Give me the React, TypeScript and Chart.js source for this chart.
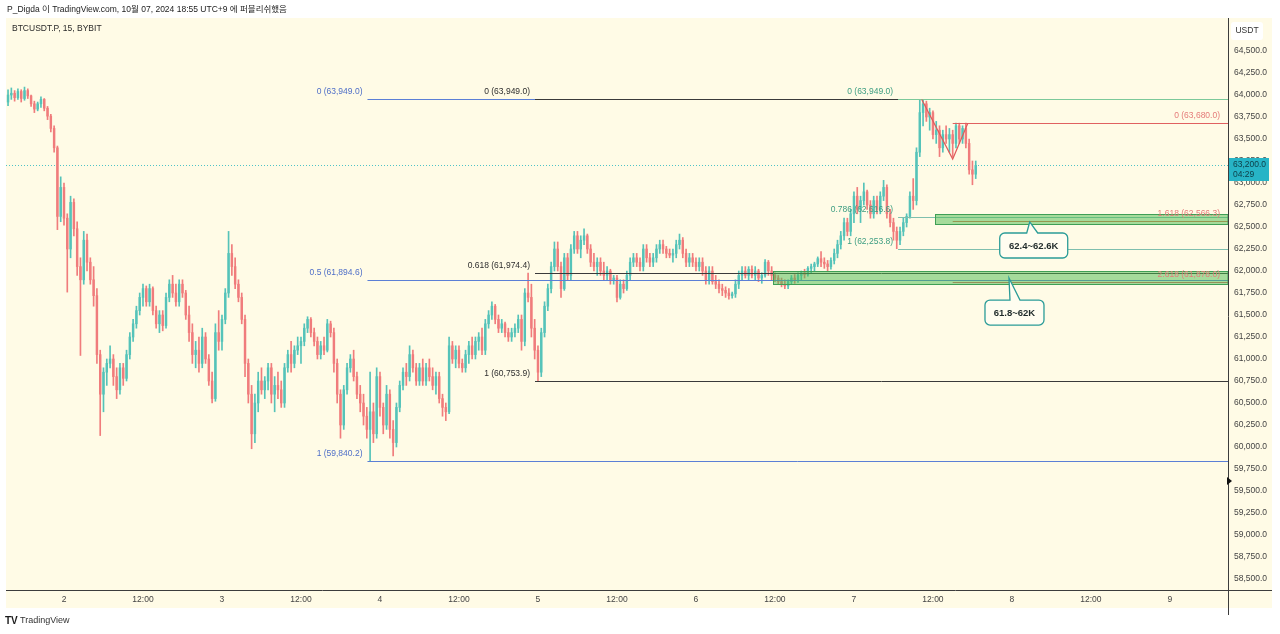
import React, { useEffect, useRef } from "react";
import { Chart, registerables } from "chart.js";

Chart.register(...registerables);

const FONT = '"Liberation Sans", Arial, sans-serif';
const HEADER_FONT = '"Liberation Sans", "Noto Sans CJK KR", sans-serif';
const BG = "#fffbe6";
const UP = "#55c3b9";
const DOWN = "#f07c7c";

const HEADER_TEXT = "P_Digda 이 TradingView.com, 10월 07, 2024 18:55 UTC+9 에 퍼블리쉬했음";
const SYMBOL_TEXT = "BTCUSDT.P, 15, BYBIT";
const FOOTER_TEXT = "TradingView";
const CURRENCY_TEXT = "USDT";

// time axis in hours since Oct 1 00:00
const START_HOUR = 15.5;
const STEP_HOURS = 0.5;
const X_MIN = 15.19;
const X_MAX = 200.82;
const Y_MIN = 58375;
const Y_MAX = 64875;

const opens = [
  63920,64000,64020,63970,64040,63960,64050,63990,63900,63840,
  63900,63950,63850,63760,63620,63400,62620,62950,62600,62250,
  62780,62480,62050,61900,62350,62100,61900,61720,61050,60600,
  60850,60950,61000,60800,60650,60900,60780,61050,61250,61400,
  61550,61700,61800,61650,61800,61550,61400,61500,61380,61700,
  61850,61750,61650,61850,61750,61500,61300,61050,61100,60950,
  61250,61000,60750,60550,61300,61200,61450,61750,62200,62050,
  61850,61700,61450,60950,60600,60150,60500,60750,60650,60750,
  60900,60600,60700,60650,60500,60900,61050,60950,61100,61150,
  61200,61350,61450,61300,61200,61050,61150,61100,61400,61300,
  60950,60600,60250,60650,60900,61000,60800,60600,60500,60350,
  60200,60400,60150,60800,60450,60250,60600,60200,60050,60450,
  60700,60850,60800,61050,60900,60750,60900,60750,60900,60800,
  60700,60800,60550,60450,60400,61150,61000,61100,60950,60900,
  61050,61150,61050,61200,61250,61100,61400,61500,61600,61450,
  61350,61400,61300,61250,61300,61350,61450,61200,61750,61700,
  61350,61100,60850,61300,61600,61800,62050,62250,62050,61800,
  62150,61950,62250,62400,62250,62350,62400,62250,62100,62050,
  62100,62000,61950,62000,61900,61920,61700,61850,61800,61950,
  62100,62150,62100,62050,62250,62150,62100,62150,62250,62300,
  62250,62200,62180,62200,62300,62350,62200,62100,62150,62100,
  62050,62100,62000,61900,62000,61880,61850,61800,61780,61750,
  61720,61740,61850,61950,62000,61950,62020,61950,62000,61920,
  61950,62100,62000,61950,61920,61880,61850,61830,61880,61920,
  61900,61950,61980,61960,62030,62050,62080,62140,62100,62080,
  62050,62120,62200,62300,62400,62550,62450,62650,62850,62700,
  62800,62900,62750,62650,62800,62700,62850,62950,62650,62550,
  62450,62350,62450,62550,62620,62850,62800,63350,63800,63900,
  63750,63800,63550,63600,63400,63550,63500,63550,63450,63650,
  63500,63620,63450,63150,63100,
];
const highs = [
  64060,64080,64050,64070,64060,64090,64070,64000,63930,63920,
  63980,63960,63870,63780,63650,63420,63070,63000,62650,62850,
  62820,62560,62150,62450,62420,62150,62050,61800,61100,60900,
  61000,61150,61050,60900,60950,60950,61100,61300,61450,61600,
  61750,61850,61830,61850,61820,61600,61550,61550,61750,61900,
  61950,61850,61900,61900,61780,61600,61400,61200,61250,61350,
  61300,61050,60850,61400,61550,61500,61800,62450,62300,62150,
  61900,61750,61500,61000,60700,60600,60850,60900,60800,60950,
  60950,60800,60850,60750,60950,61100,61200,61150,61250,61250,
  61400,61480,61470,61350,61250,61200,61250,61450,61430,61350,
  61000,60650,60700,60950,61050,61100,60850,60700,60600,60450,
  60850,60500,60900,60850,60500,60700,60650,60300,60500,60750,
  60900,60950,61150,61100,60950,60950,61000,60950,61000,60900,
  60850,60850,60600,60500,61250,61200,61150,61150,61000,61100,
  61200,61250,61250,61300,61350,61450,61550,61650,61620,61500,
  61450,61420,61350,61350,61400,61500,61500,61800,61975,61850,
  61450,61150,61350,61650,61850,62100,62330,62330,62100,62200,
  62200,62300,62450,62450,62400,62480,62420,62300,62200,62150,
  62150,62100,62050,62020,61950,61950,61900,61900,62000,62150,
  62200,62200,62150,62300,62300,62200,62200,62300,62350,62350,
  62280,62250,62250,62350,62420,62380,62250,62200,62200,62150,
  62150,62150,62050,62050,62050,61950,61900,61850,61820,61800,
  61760,61900,62000,62050,62050,62050,62060,62050,62020,61980,
  62130,62120,62050,61980,61950,61920,61900,61900,61950,61960,
  61980,62000,62020,62050,62080,62100,62160,62220,62150,62120,
  62150,62250,62350,62450,62600,62600,62700,62900,62950,62850,
  63000,62920,62800,62850,62850,62900,63030,62980,62700,62600,
  62500,62500,62600,62650,62900,63050,63400,63949,63940,63930,
  63850,63820,63700,63650,63600,63650,63620,63600,63680,63680,
  63650,63680,63500,63250,63250,
];
const lows = [
  63880,63950,63930,63950,63920,63940,63960,63870,63800,63820,
  63860,63820,63720,63580,63350,62470,62560,62520,61760,62150,
  62400,61950,61040,61850,62000,61850,61600,60950,60130,60400,
  60700,60900,60700,60550,60600,60700,60750,61000,61200,61350,
  61500,61600,61600,61600,61500,61350,61300,61320,61350,61650,
  61700,61600,61600,61700,61450,61200,60950,60900,60850,60900,
  60950,60700,60500,60520,61100,61100,61400,61700,61950,61800,
  61650,61400,60800,60500,59980,60050,60400,60600,60550,60650,
  60500,60400,60550,60450,60450,60850,60850,60900,61050,60950,
  61150,61300,61250,61150,61000,61000,61050,61080,61250,60850,
  60500,60100,60200,60600,60850,60750,60550,60400,60250,60100,
  59840,60050,60100,60350,60150,60200,60100,59900,60000,60400,
  60650,60700,60750,60850,60700,60700,60700,60700,60750,60650,
  60600,60500,60350,60300,60380,60950,60900,60900,60850,60850,
  60950,61000,61000,61100,61050,61050,61350,61450,61400,61300,
  61300,61250,61200,61200,61250,61300,61100,61150,61650,61250,
  61000,60754,60800,61250,61550,61750,62000,62000,61700,61780,
  61900,61900,62200,62200,62150,62300,62200,62050,62000,61950,
  61950,61900,61900,61850,61850,61650,61680,61750,61780,61900,
  62050,62050,62000,62000,62100,62050,62050,62100,62200,62200,
  62150,62150,62100,62150,62250,62150,62050,62050,62050,62000,
  62000,61950,61850,61850,61850,61800,61750,61720,61700,61680,
  61690,61700,61800,61900,61920,61900,61920,61900,61880,61860,
  61930,61950,61900,61880,61850,61820,61800,61800,61850,61860,
  61870,61900,61920,61940,61980,62000,62050,62050,62030,62000,
  62020,62080,62150,62250,62350,62400,62400,62550,62650,62550,
  62750,62700,62600,62600,62650,62650,62800,62600,62500,62350,
  62254,62300,62400,62500,62600,62700,62750,63300,63650,63700,
  63600,63500,63450,63300,63350,63450,63350,63300,63400,63450,
  63450,63400,63100,62980,63050,
];
const closes = [
  64000,64020,63970,64040,63960,64050,63990,63900,63840,63900,
  63950,63850,63760,63620,63400,62620,62950,62600,62250,62780,
  62480,62050,61900,62350,62100,61900,61720,61050,60600,60850,
  60950,61000,60800,60650,60900,60780,61050,61250,61400,61550,
  61700,61800,61650,61800,61550,61400,61500,61380,61700,61850,
  61750,61650,61850,61750,61500,61300,61050,61100,60950,61250,
  61000,60750,60550,61300,61200,61450,61750,62200,62050,61850,
  61700,61450,60950,60600,60150,60500,60750,60650,60750,60900,
  60600,60700,60650,60500,60900,61050,60950,61100,61150,61200,
  61350,61450,61300,61200,61050,61150,61100,61400,61300,60950,
  60600,60250,60650,60900,61000,60800,60600,60500,60350,60200,
  60400,60150,60800,60450,60250,60600,60200,60050,60450,60700,
  60850,60800,61050,60900,60750,60900,60750,60900,60800,60700,
  60800,60550,60450,60400,61150,61000,61100,60950,60900,61050,
  61150,61050,61200,61250,61100,61400,61500,61600,61450,61350,
  61400,61300,61250,61300,61350,61450,61200,61750,61700,61350,
  61100,60850,61300,61600,61800,62050,62250,62050,61800,62150,
  61950,62250,62400,62250,62350,62400,62250,62100,62050,62100,
  62000,61950,62000,61900,61920,61700,61850,61800,61950,62100,
  62150,62100,62050,62250,62150,62100,62150,62250,62300,62250,
  62200,62180,62200,62300,62350,62200,62100,62150,62100,62050,
  62100,62000,61900,62000,61880,61850,61800,61780,61750,61720,
  61740,61850,61950,62000,61950,62020,61950,62000,61920,61950,
  62100,62000,61950,61920,61880,61850,61830,61880,61920,61900,
  61950,61980,61960,62030,62050,62080,62140,62100,62080,62050,
  62120,62200,62300,62400,62550,62450,62650,62850,62700,62800,
  62900,62750,62650,62800,62700,62850,62950,62650,62550,62450,
  62350,62450,62550,62620,62850,62800,63350,63800,63900,63750,
  63800,63550,63600,63400,63550,63500,63550,63450,63650,63500,
  63620,63450,63150,63100,63200,
];

const PRICE_TICKS = [
  58500, 58750, 59000, 59250, 59500, 59750, 60000, 60250, 60500, 60750, 61000, 61250, 61500,
  61750, 62000, 62250, 62500, 62750, 63000, 63250, 63500, 63750, 64000, 64250, 64500,
];
const TIME_TICKS = [24, 36, 48, 60, 72, 84, 96, 108, 120, 132, 144, 156, 168, 180, 192];
const TIME_LABELS = ["2", "12:00", "3", "12:00", "4", "12:00", "5", "12:00", "6", "12:00", "7", "12:00", "8", "12:00", "9"];

const CURRENT_PRICE = 63200;
const CURRENT_PRICE_TEXT = "63,200.0";
const COUNTDOWN_TEXT = "04:29";
const MARKER_PRICE = 59614;

const FIB_BLUE_START = 70.1;
const FIB_BLUE_PRICES = [63949.0, 61894.6, 59840.2];
const FIB_BLUE_LABELS = ["0 (63,949.0)", "0.5 (61,894.6)", "1 (59,840.2)"];
const FIB_BLACK_START = 95.55;
const FIB_BLACK_PRICES = [63949.0, 61974.4, 60753.9];
const FIB_BLACK_LABELS = ["0 (63,949.0)", "0.618 (61,974.4)", "1 (60,753.9)"];
const FIB_GREEN_START = 150.7;
const FIB_GREEN_PRICES = [63949.0, 62616.6, 62253.8];
const FIB_GREEN_LABELS = ["0 (63,949.0)", "0.786 (62,616.6)", "1 (62,253.8)"];
const FIB_RED_START = 159.0;
const FIB_RED_PRICES = [63680.0, 62566.3, 61878.0];
const FIB_RED_LABELS = ["0 (63,680.0)", "1.618 (62,566.3)", "2.618 (61,878.0)"];

const ZIGZAG_TIMES = [154.3, 159.0, 161.3];
const ZIGZAG_PRICES = [63949, 63273, 63680];

const ZONE_STARTS = [156.3, 131.7];
const ZONE_LOWS = [62530, 61850];
const ZONE_HIGHS = [62650, 62000];

const CALLOUT_TEXTS = ["62.4~62.6K", "61.8~62K"];
const CALLOUT_TIMES = [170.7, 167.55];
const CALLOUT_PRICES = [62557, 61920];

function calloutPath(ctx: CanvasRenderingContext2D, ax: number, ay: number, rx: number, ry: number, rw: number, rh: number, t1: number, t2: number) {
  const r = 5;
  ctx.beginPath();
  ctx.moveTo(rx + r, ry);
  ctx.lineTo(t1, ry);
  ctx.lineTo(ax, ay);
  ctx.lineTo(t2, ry);
  ctx.lineTo(rx + rw - r, ry);
  ctx.arcTo(rx + rw, ry, rx + rw, ry + r, r);
  ctx.lineTo(rx + rw, ry + rh - r);
  ctx.arcTo(rx + rw, ry + rh, rx + rw - r, ry + rh, r);
  ctx.lineTo(rx + r, ry + rh);
  ctx.arcTo(rx, ry + rh, rx, ry + rh - r, r);
  ctx.lineTo(rx, ry + r);
  ctx.arcTo(rx, ry, rx + r, ry, r);
  ctx.closePath();
}

const overlayPlugin = {
  id: "overlay",
  beforeDraw(chart: any) {
    const { ctx, chartArea: a, scales } = chart;
    ctx.save();
    ctx.fillStyle = "#ffffff";
    ctx.fillRect(0, 0, chart.width, chart.height);
    ctx.fillStyle = BG;
    ctx.fillRect(a.left, a.top, scales.y.right - a.left, scales.x.bottom - a.top);
    ctx.restore();
  },
  beforeDatasetsDraw(chart: any) {
    const { ctx, chartArea: a, scales } = chart;
    const y = Math.round(scales.y.getPixelForValue(CURRENT_PRICE)) + 0.5;
    ctx.save();
    ctx.strokeStyle = "#4fc3c7";
    ctx.lineWidth = 1;
    ctx.setLineDash([1, 2]);
    ctx.beginPath();
    ctx.moveTo(a.left, y);
    ctx.lineTo(a.right, y);
    ctx.stroke();
    ctx.restore();
  },
  afterDatasetsDraw(chart: any) {
    const { ctx, chartArea: a, scales } = chart;
    const X = (t: number) => scales.x.getPixelForValue(t);
    const Y = (p: number) => Math.round(scales.y.getPixelForValue(p)) + 0.5;
    ctx.save();

    const fibLines = (start: number, prices: number[], colors: string[]) => {
      const x0 = X(start);
      prices.forEach((p, i) => {
        ctx.strokeStyle = colors[i];
        ctx.lineWidth = 1;
        ctx.beginPath();
        ctx.moveTo(x0, Y(p));
        ctx.lineTo(a.right, Y(p));
        ctx.stroke();
      });
    };
    fibLines(FIB_BLUE_START, FIB_BLUE_PRICES, ["#5b7fd6", "#5b7fd6", "#5b7fd6"]);
    fibLines(FIB_BLACK_START, FIB_BLACK_PRICES, ["#3a3a3a", "#3a3a3a", "#3a3a3a"]);
    fibLines(FIB_GREEN_START, FIB_GREEN_PRICES, ["#7cc99a", "#7fbfae", "#7fbfae"]);
    fibLines(FIB_RED_START, FIB_RED_PRICES, ["#e06060", "#e07050", "#e06060"]);

    // zigzag
    ctx.strokeStyle = "#e05a5a";
    ctx.lineWidth = 1.2;
    ctx.beginPath();
    ZIGZAG_TIMES.forEach((t, i) => {
      const px = X(t);
      const py = scales.y.getPixelForValue(ZIGZAG_PRICES[i]);
      if (i === 0) ctx.moveTo(px, py);
      else ctx.lineTo(px, py);
    });
    ctx.stroke();

    // zones
    ZONE_STARTS.forEach((t, i) => {
      const x0 = Math.round(X(t)) + 0.5;
      const yTop = Y(ZONE_HIGHS[i]);
      const yBot = Y(ZONE_LOWS[i]);
      ctx.fillStyle = "rgba(76, 187, 80, 0.5)";
      ctx.fillRect(x0, yTop, a.right - x0, yBot - yTop);
      ctx.strokeStyle = "#3f9f55";
      ctx.lineWidth = 1;
      ctx.strokeRect(x0, yTop, a.right - x0, yBot - yTop);
    });

    // fib labels (left of start)
    ctx.font = `8.5px ${FONT}`;
    ctx.textBaseline = "middle";
    const leftLabels = (start: number, prices: number[], labels: string[], color: string) => {
      const x0 = X(start);
      ctx.fillStyle = color;
      ctx.textAlign = "right";
      prices.forEach((p, i) => ctx.fillText(labels[i], x0 - 5, Y(p) - 8));
    };
    leftLabels(FIB_BLUE_START, FIB_BLUE_PRICES, FIB_BLUE_LABELS, "#4f6fc8");
    leftLabels(FIB_BLACK_START, FIB_BLACK_PRICES, FIB_BLACK_LABELS, "#2e2e2e");
    leftLabels(FIB_GREEN_START, FIB_GREEN_PRICES, FIB_GREEN_LABELS, "#3e9e82");
    ctx.fillStyle = "#e57c7a";
    ctx.textAlign = "right";
    FIB_RED_PRICES.forEach((p, i) => ctx.fillText(FIB_RED_LABELS[i], a.right - 8, Y(p) - 8));

    // callouts
    const boxDX = [-30, -24];
    const boxDY = [11, 22];
    const boxW = [68, 59];
    const tail1 = [-3, 1];
    const tail2 = [8, 11];
    CALLOUT_TEXTS.forEach((txt, i) => {
      const ax = X(CALLOUT_TIMES[i]);
      const ay = scales.y.getPixelForValue(CALLOUT_PRICES[i]);
      const rx = ax + boxDX[i];
      const ry = ay + boxDY[i];
      calloutPath(ctx, ax, ay, rx, ry, boxW[i], 25, ax + tail1[i], ax + tail2[i]);
      ctx.fillStyle = "#fffdf0";
      ctx.fill();
      ctx.strokeStyle = "#2b9c98";
      ctx.lineWidth = 1.3;
      ctx.stroke();
      ctx.fillStyle = "#1f2a2a";
      ctx.font = `bold 9.5px ${FONT}`;
      ctx.textAlign = "center";
      ctx.textBaseline = "middle";
      ctx.fillText(txt, rx + boxW[i] / 2, ry + 13);
    });
    ctx.restore();
  },
  afterDraw(chart: any) {
    const { ctx, chartArea: a, scales } = chart;
    const yS = scales.y;
    const xS = scales.x;
    ctx.save();
    // axis borders
    ctx.strokeStyle = "#3c3c3c";
    ctx.lineWidth = 1;
    ctx.beginPath();
    ctx.moveTo(a.left, xS.top + 0.5);
    ctx.lineTo(yS.right, xS.top + 0.5);
    ctx.moveTo(yS.left + 0.5, a.top);
    ctx.lineTo(yS.left + 0.5, xS.bottom + 7);
    ctx.stroke();

    // marker
    const my = yS.getPixelForValue(MARKER_PRICE);
    ctx.fillStyle = "#111";
    ctx.beginPath();
    ctx.moveTo(yS.left - 1, my - 4);
    ctx.lineTo(yS.left + 4, my);
    ctx.lineTo(yS.left - 1, my + 4);
    ctx.closePath();
    ctx.fill();

    // price tag
    const py = Math.round(yS.getPixelForValue(CURRENT_PRICE));
    ctx.fillStyle = "#27b4c6";
    ctx.fillRect(yS.left + 1, py - 7, 40, 23);
    ctx.fillStyle = "#0e3d46";
    ctx.font = `8.5px ${FONT}`;
    ctx.textAlign = "left";
    ctx.textBaseline = "middle";
    ctx.fillText(CURRENT_PRICE_TEXT, yS.left + 5, py);
    ctx.fillText(COUNTDOWN_TEXT, yS.left + 5, py + 9.5);

    // USDT box
    ctx.fillStyle = "#ffffff";
    ctx.beginPath();
    ctx.roundRect(yS.left + 3, a.top + 4, 32, 18, 3);
    ctx.fill();
    ctx.fillStyle = "#333";
    ctx.textAlign = "center";
    ctx.fillText(CURRENCY_TEXT, yS.left + 19, a.top + 13);

    // symbol
    ctx.textAlign = "left";
    ctx.fillStyle = "#2a2a2a";
    ctx.fillText(SYMBOL_TEXT, a.left + 6, a.top + 11);

    // header
    ctx.font = `8.5px ${HEADER_FONT}`;
    ctx.fillStyle = "#222";
    ctx.fillText(HEADER_TEXT, 7, 10);

    // footer
    ctx.font = `bold 10px ${FONT}`;
    ctx.fillStyle = "#1a1a1a";
    ctx.fillText("TV", 5, 621);
    ctx.font = `9px ${FONT}`;
    ctx.fillStyle = "#333";
    ctx.fillText(FOOTER_TEXT, 20, 621);
    ctx.restore();
  },
};

export default function App() {
  const ref = useRef<HTMLCanvasElement>(null);
  useEffect(() => {
    document.body.style.margin = "0";
    const canvas = ref.current!;
    const times = closes.map((_, i) => START_HOUR + i * STEP_HOURS);
    const colors = closes.map((c, i) => (c >= opens[i] ? UP : DOWN));
    const chart = new Chart(canvas, {
      type: "bar",
      data: {
        datasets: [
          {
            data: times.map((t, i) => ({ x: t, y: [opens[i], closes[i]] })) as any,
            backgroundColor: colors,
            barThickness: 1.8,
            grouped: false,
            borderWidth: 0,
          } as any,
          {
            data: times.map((t, i) => ({ x: t, y: [lows[i], highs[i]] })) as any,
            backgroundColor: colors,
            barThickness: 1,
            grouped: false,
            borderWidth: 0,
          } as any,
        ],
      },
      options: {
        animation: false,
        responsive: true,
        maintainAspectRatio: false,
        events: [],
        layout: { padding: { left: 6, top: 18, right: 8, bottom: 26 } },
        plugins: { legend: { display: false }, tooltip: { enabled: false } },
        scales: {
          x: {
            type: "linear",
            offset: false,
            min: X_MIN,
            max: X_MAX,
            grid: { display: false, drawTicks: false },
            border: { display: false },
            afterFit: (s: any) => {
              s.height = 18;
            },
            afterBuildTicks: (s: any) => {
              s.ticks = TIME_TICKS.map((v) => ({ value: v }));
            },
            ticks: {
              autoSkip: false,
              maxRotation: 0,
              padding: 5,
              color: "#444",
              font: { size: 8.5, family: FONT },
              callback: (_v: any, i: number) => TIME_LABELS[i],
            },
          },
          y: {
            type: "linear",
            position: "right",
            min: Y_MIN,
            max: Y_MAX,
            grid: { display: false, drawTicks: false },
            border: { display: false },
            afterFit: (s: any) => {
              s.width = 44;
            },
            afterBuildTicks: (s: any) => {
              s.ticks = PRICE_TICKS.map((v) => ({ value: v }));
            },
            ticks: {
              padding: 6,
              color: "#444",
              font: { size: 8.5, family: FONT },
              callback: (v: any) =>
                Number(v).toLocaleString("en-US", { minimumFractionDigits: 1, maximumFractionDigits: 1 }),
            },
          },
        },
      } as any,
      plugins: [overlayPlugin],
    });
    return () => chart.destroy();
  }, []);
  return (
    <div style={{ position: "absolute", left: 0, top: 0, width: 1280, height: 634 }}>
      <canvas ref={ref} />
    </div>
  );
}
